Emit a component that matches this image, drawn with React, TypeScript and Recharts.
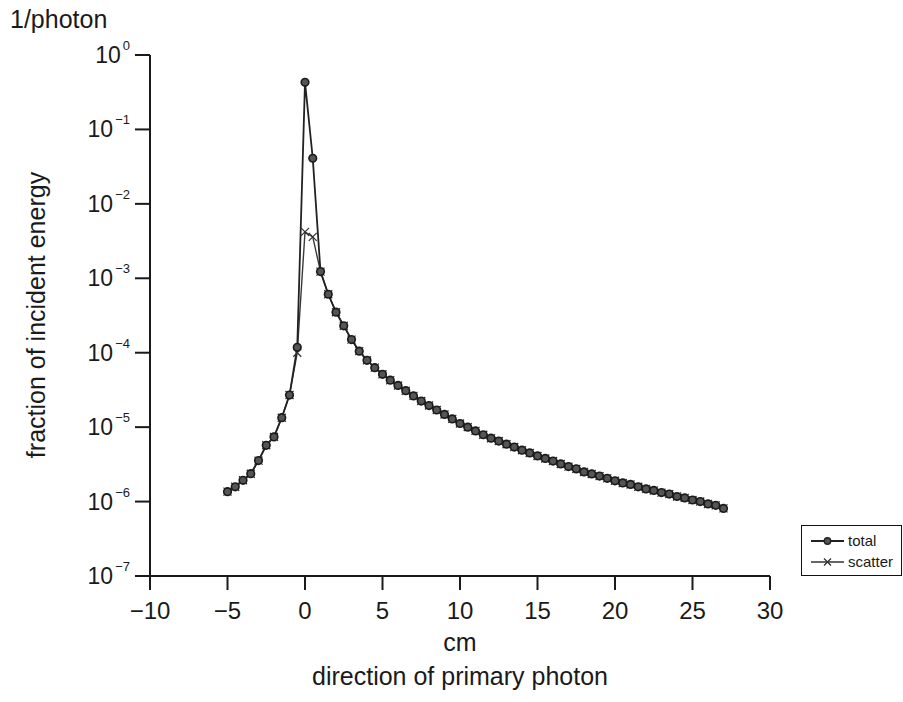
import { LineChart, Line, XAxis, YAxis } from 'recharts';

// distance along the primary photon direction (cm)
const cm = [
  -5, -4.5, -4, -3.5, -3, -2.5, -2, -1.5, -1, -0.5,
  0, 0.5, 1, 1.5, 2, 2.5, 3, 3.5, 4, 4.5,
  5, 5.5, 6, 6.5, 7, 7.5, 8, 8.5, 9, 9.5,
  10, 10.5, 11, 11.5, 12, 12.5, 13, 13.5, 14, 14.5,
  15, 15.5, 16, 16.5, 17, 17.5, 18, 18.5, 19, 19.5,
  20, 20.5, 21, 21.5, 22, 22.5, 23, 23.5, 24, 24.5,
  25, 25.5, 26, 26.5, 27,
];

const total = [
  1.36e-6, 1.58e-6, 1.93e-6, 2.37e-6, 3.55e-6, 5.7e-6, 7.4e-6, 1.34e-5, 2.7e-5, 1.18e-4,
  0.43, 0.041, 1.23e-3, 6.1e-4, 3.5e-4, 2.3e-4, 1.5e-4, 1.05e-4, 7.9e-5, 6.3e-5,
  5.13e-5, 4.27e-5, 3.63e-5, 3.09e-5, 2.63e-5, 2.24e-5, 1.95e-5, 1.7e-5, 1.48e-5, 1.29e-5,
  1.12e-5, 1.0e-5, 8.9e-6, 7.9e-6, 7.1e-6, 6.5e-6, 5.9e-6, 5.4e-6, 4.9e-6, 4.5e-6,
  4.1e-6, 3.8e-6, 3.5e-6, 3.2e-6, 2.95e-6, 2.75e-6, 2.5e-6, 2.35e-6, 2.2e-6, 2.05e-6,
  1.9e-6, 1.78e-6, 1.7e-6, 1.58e-6, 1.48e-6, 1.41e-6, 1.32e-6, 1.26e-6, 1.17e-6, 1.12e-6,
  1.05e-6, 1.0e-6, 9.3e-7, 8.9e-7, 8.1e-7,
];

const scatter = [
  1.36e-6, 1.58e-6, 1.93e-6, 2.37e-6, 3.55e-6, 5.7e-6, 7.4e-6, 1.34e-5, 2.7e-5, 1.0e-4,
  4.2e-3, 3.6e-3, 1.23e-3, 6.1e-4, 3.5e-4, 2.3e-4, 1.5e-4, 1.05e-4, 7.9e-5, 6.3e-5,
  5.13e-5, 4.27e-5, 3.63e-5, 3.09e-5, 2.63e-5, 2.24e-5, 1.95e-5, 1.7e-5, 1.48e-5, 1.29e-5,
  1.12e-5, 1.0e-5, 8.9e-6, 7.9e-6, 7.1e-6, 6.5e-6, 5.9e-6, 5.4e-6, 4.9e-6, 4.5e-6,
  4.1e-6, 3.8e-6, 3.5e-6, 3.2e-6, 2.95e-6, 2.75e-6, 2.5e-6, 2.35e-6, 2.2e-6, 2.05e-6,
  1.9e-6, 1.78e-6, 1.7e-6, 1.58e-6, 1.48e-6, 1.41e-6, 1.32e-6, 1.26e-6, 1.17e-6, 1.12e-6,
  1.05e-6, 1.0e-6, 9.3e-7, 8.9e-7, 8.1e-7,
];

const xTicks = [-10, -5, 0, 5, 10, 15, 20, 25, 30];
const yTicks = [1, 1e-1, 1e-2, 1e-3, 1e-4, 1e-5, 1e-6, 1e-7];

const data = cm.map((x, i) => ({ x, total: total[i], scatter: scatter[i] }));

const FONT = '"Liberation Sans", Arial, sans-serif';
const INK = '#1a1a1a';

function PowerTick(props: any) {
  const { x, y, payload } = props;
  const exp = Math.round(Math.log10(payload.value));
  const sup = exp === 0 ? '0' : `\u2212${Math.abs(exp)}`;
  return (
    <text x={x} y={y} textAnchor="end" fill={INK} fontFamily={FONT}>
      <tspan fontSize={23} dy={8}>10</tspan>
      <tspan fontSize={13} dx={2} dy={-13}>{sup}</tspan>
    </text>
  );
}

function CircleDot(props: any) {
  const { cx, cy, index } = props;
  if (cx == null || cy == null) return <g key={index} />;
  return <circle key={index} cx={cx} cy={cy} r={3.8} fill="#555" stroke="#1a1a1a" strokeWidth={1.6} />;
}

function CrossDot(props: any) {
  const { cx, cy, index } = props;
  if (cx == null || cy == null) return <g key={index} />;
  const s = 4;
  return (
    <path
      key={index}
      d={`M${cx - s},${cy - s}L${cx + s},${cy + s}M${cx - s},${cy + s}L${cx + s},${cy - s}`}
      stroke="#333"
      strokeWidth={1.3}
      fill="none"
    />
  );
}

function LegendBox() {
  return (
    <div
      style={{
        position: 'absolute',
        left: 801,
        top: 525,
        width: 99,
        height: 49,
        border: '1.5px solid #111',
        fontFamily: FONT,
        fontSize: 15,
        color: INK,
      }}
    >
      <div style={{ position: 'absolute', left: 9, top: 6, display: 'flex', alignItems: 'center' }}>
        <svg width={33} height={12}>
          <line x1={0} y1={6} x2={33} y2={6} stroke="#222" strokeWidth={1.8} />
          <circle cx={16.5} cy={6} r={3.2} fill="#555" stroke="#222" strokeWidth={1.4} />
        </svg>
        <span style={{ marginLeft: 4 }}>total</span>
      </div>
      <div style={{ position: 'absolute', left: 9, top: 27, display: 'flex', alignItems: 'center' }}>
        <svg width={33} height={12}>
          <line x1={0} y1={6} x2={33} y2={6} stroke="#333" strokeWidth={1.4} />
          <path d="M13,2.5L20,9.5M13,9.5L20,2.5" stroke="#333" strokeWidth={1.3} />
        </svg>
        <span style={{ marginLeft: 4 }}>scatter</span>
      </div>
    </div>
  );
}

export default function App() {
  return (
    <div
      style={{
        position: 'absolute',
        left: 0,
        top: 0,
        width: 903,
        height: 702,
        background: '#fff',
        fontFamily: FONT,
        color: INK,
      }}
    >
      <LineChart
        width={903}
        height={702}
        data={data}
        margin={{ top: 55, right: 133, bottom: 86, left: 0 }}
      >
        <XAxis
          dataKey="x"
          type="number"
          domain={[-10, 30]}
          ticks={xTicks}
          allowDataOverflow
          height={40}
          tickSize={14}
          tickMargin={12}
          axisLine={{ stroke: INK, strokeWidth: 2 }}
          tickLine={{ stroke: INK, strokeWidth: 2 }}
          tick={{ fill: INK, fontSize: 24, fontFamily: FONT }}
          tickFormatter={(v: number) => String(v).replace('-', '\u2212')}
        />
        <YAxis
          type="number"
          scale="log"
          domain={[1e-7, 1]}
          ticks={yTicks}
          allowDataOverflow
          width={150}
          tickSize={15}
          tickMargin={5}
          axisLine={{ stroke: INK, strokeWidth: 2 }}
          tickLine={{ stroke: INK, strokeWidth: 2 }}
          tick={<PowerTick />}
        />
        <Line
          dataKey="scatter"
          type="linear"
          stroke="#3a3a3a"
          strokeWidth={1.4}
          dot={<CrossDot />}
          activeDot={false}
          isAnimationActive={false}
        />
        <Line
          dataKey="total"
          type="linear"
          stroke="#222"
          strokeWidth={1.8}
          dot={<CircleDot />}
          activeDot={false}
          isAnimationActive={false}
        />
      </LineChart>

      <div style={{ position: 'absolute', left: 10, top: 5, fontSize: 25 }}>1/photon</div>
      <div
        style={{
          position: 'absolute',
          left: 36,
          top: 315,
          fontSize: 25,
          whiteSpace: 'nowrap',
          transform: 'translate(-50%, -50%) rotate(-90deg)',
        }}
      >
        fraction of incident energy
      </div>
      <div
        style={{
          position: 'absolute',
          left: 460,
          top: 642,
          fontSize: 25,
          transform: 'translate(-50%, -50%)',
        }}
      >
        cm
      </div>
      <div
        style={{
          position: 'absolute',
          left: 460,
          top: 676,
          fontSize: 25,
          whiteSpace: 'nowrap',
          transform: 'translate(-50%, -50%)',
        }}
      >
        direction of primary photon
      </div>
      <LegendBox />
    </div>
  );
}
